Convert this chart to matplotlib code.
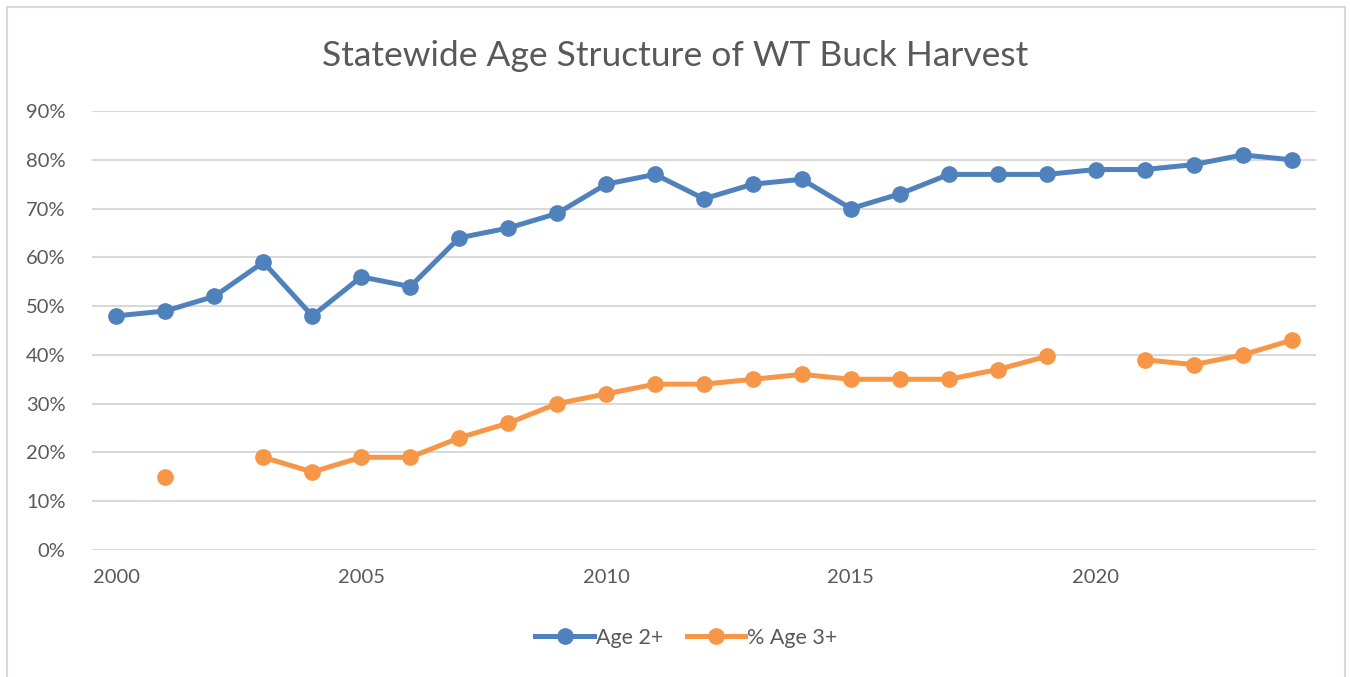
import numpy as np
import matplotlib
matplotlib.use("Agg")
from matplotlib import pyplot as plt
from matplotlib.patches import Rectangle
from matplotlib.ticker import PercentFormatter

years = list(range(2000, 2025))
age2 = [48, 49, 52, 59, 48, 56, 54, 64, 66, 69, 75, 77, 72, 75, 76, 70, 73,
        77, 77, 77, 78, 78, 79, 81, 80]
age3 = [np.nan, 15, np.nan, 19, 16, 19, 19, 23, 26, 30, 32, 34, 34, 35, 36,
        35, 35, 35, 37, 39.7, np.nan, 39, 38, 40, 43]
series_names = ["Age 2+", "% Age 3+"]
x_ticks = [2000, 2005, 2010, 2015, 2020]

plt.rcParams['font.family'] = ['Lato', 'DejaVu Sans']
text_grey = "#595959"

fig = plt.figure(figsize=(13.5, 6.77), dpi=100)
ax = fig.add_axes([92 / 1350, 1 - 550 / 677, (1316 - 92) / 1350, (550 - 111) / 677])

# chart frame
fig.patches.append(Rectangle((7 / 1350, -0.01), 1338 / 1350, 1 - 7 / 677 + 0.01,
                             transform=fig.transFigure, fill=False,
                             edgecolor="#d9d9d9", linewidth=1.5))

ax.plot(years, age2, color="#4f81bd", linewidth=3.6, marker="o",
        markersize=11, label=series_names[0], zorder=3)
ax.plot(years, age3, color="#f79646", linewidth=3.6, marker="o",
        markersize=11, label=series_names[1], zorder=3)

ax.set_xlim(1999.5, 2024.5)
ax.set_ylim(0, 90)
ax.set_yticks(range(0, 91, 10))
ax.yaxis.set_major_formatter(PercentFormatter(decimals=0))
ax.set_xticks(x_ticks)
ax.grid(axis="y", color="#d9d9d9", linewidth=1.5)
ax.set_axisbelow(True)
for s in ax.spines.values():
    s.set_visible(False)
ax.tick_params(length=0, labelsize=14.5, labelcolor=text_grey)
ax.tick_params(axis="y", pad=19)
ax.tick_params(axis="x", pad=14)

fig.text(0.5, 1 - 56 / 677, "Statewide Age Structure of WT Buck Harvest",
         ha="center", va="center", fontsize=25.5, color=text_grey)

fig.legend(loc="center", bbox_to_anchor=(0.5085, 1 - 638 / 677), ncol=2,
           frameon=False, fontsize=15.5, labelcolor=text_grey,
           handlelength=2.7, handletextpad=0.1, columnspacing=1.1)

fig.savefig("out.png", dpi=100)
plt.close(fig)
